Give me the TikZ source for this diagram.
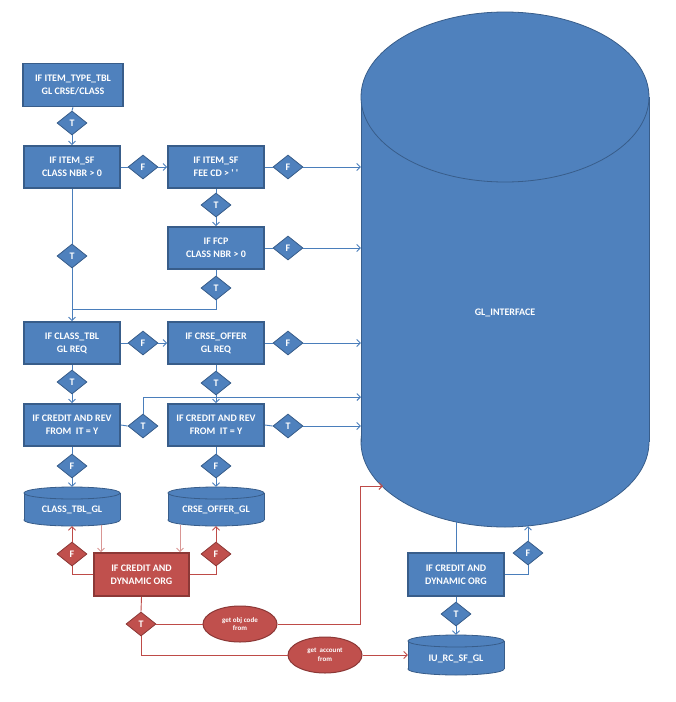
\documentclass[tikz,border=0pt]{standalone}
\usepackage{fontspec}
\newfontfamily\carl{Carlito}
\usetikzlibrary{shapes.geometric,arrows.meta}
\definecolor{blueF}{HTML}{4F81BD}
\definecolor{blueD}{HTML}{385D8A}
\definecolor{lineB}{HTML}{4A7EBB}
\definecolor{redF}{HTML}{C0504D}
\definecolor{redD}{HTML}{8C3836}
\definecolor{lineR}{HTML}{BE4B48}
\definecolor{lineP}{HTML}{D99694}
\newcommand{\drawcyl}[5]{%
  \path[cylpart] ({(#1+#2)/2},#4) ellipse [x radius={(#2-#1)/2}, y radius=#5];
  \fill[blueF] (#1,#3) rectangle (#2,#4);
  \draw[cylside] (#1,#3) -- (#1,#4) (#2,#3) -- (#2,#4);
  \path[cylpart] ({(#1+#2)/2},#3) ellipse [x radius={(#2-#1)/2}, y radius=#5];
}
\begin{document}
\begin{tikzpicture}[x=1pt,y=-1pt,
  txt/.style={text=white,font=\carl\bfseries\fontsize{10}{13}\selectfont,align=center},
  box/.style={txt,rectangle,fill=blueF,draw=blueD,line width=1.6pt,minimum width=96,minimum height=42,inner sep=0},
  rbox/.style={box,fill=redF,draw=redD},
  dia/.style={txt,diamond,aspect=1.25,minimum width=30,minimum height=24,inner sep=0,fill=blueF,draw=blueD,line width=0.8pt},
  rdia/.style={dia,fill=redF,draw=redD},
  rell/.style={text=white,font=\carl\bfseries\fontsize{7}{8.5}\selectfont,align=center,ellipse,minimum width=74,minimum height=36,inner sep=0,fill=redF,draw=redD,line width=1pt},
  cylpart/.style={fill=blueF,draw=blueD,line width=0.8pt},
  cylside/.style={draw=blueD,line width=0.8pt},
  holder/.style={rectangle,draw=none,inner sep=0},
  cb/.style={draw=lineB,line width=0.9pt},
  cr/.style={draw=lineR,line width=0.9pt},
  cp/.style={draw=lineP,line width=0.9pt},
  arr/.style={-{Straight Barb[length=3.5pt,width=7pt]}}
]
\fill[white] (0,0) rectangle (676,702);
\useasboundingbox (0,0) rectangle (676,702);

% cylinders
\drawcyl{361}{649}{97}{442}{85}
\drawcyl{24}{120}{493}{520}{6}
\drawcyl{168}{264}{493}{520}{6}
\drawcyl{408}{504}{641}{669}{6}
\node[holder,minimum width=288,minimum height=515] (gl) at (505,269.5) {};
\node[txt] (gllabel) at (505,313) {GL\_INTERFACE};
\node[holder,txt,minimum width=96,minimum height=39] (cyl1) at (72,506.5) {};
\node[txt] (cyl1l) at (72,510) {CLASS\_TBL\_GL};
\node[holder,txt,minimum width=96,minimum height=39] (cyl2) at (216,506.5) {};
\node[txt] (cyl2l) at (216,510) {CRSE\_OFFER\_GL};
\node[holder,txt,minimum width=96,minimum height=40] (iu) at (456,655) {};
\node[txt] (iul) at (456,659) {IU\_RC\_SF\_GL};

% boxes
\node[box,minimum width=100,minimum height=43] (b1) at (73,85) {IF ITEM\_TYPE\_TBL\\GL CRSE/CLASS};
\node[box] (b2) at (72,167) {IF ITEM\_SF\\CLASS NBR > 0};
\node[box] (b3) at (216,167) {IF ITEM\_SF\\FEE CD > ' '};
\node[box] (b4) at (216,248) {IF FCP\\CLASS NBR > 0};
\node[box] (b5) at (72,343) {IF CLASS\_TBL\\GL REQ};
\node[box] (b6) at (216,343) {IF CRSE\_OFFER\\GL REQ};
\node[box] (b7) at (72,425) {IF CREDIT AND REV\\FROM\ \ IT = Y};
\node[box] (b8) at (216,425) {IF CREDIT AND REV\\FROM\ \ IT = Y};
\node[rbox,minimum width=95,minimum height=43] (rb) at (141.5,574.5) {IF CREDIT AND\\DYNAMIC ORG};
\node[box,minimum height=43] (bb) at (456,574.5) {IF CREDIT AND\\DYNAMIC ORG};

% diamonds
\node[dia] (t1) at (72,123) {T};
\node[dia] (f1) at (143,167) {F};
\node[dia] (f2) at (288,167) {F};
\node[dia] (t2) at (216,205) {T};
\node[dia] (f3) at (288,248) {F};
\node[dia] (t3) at (216,288) {T};
\node[dia] (t4) at (72,256) {T};
\node[dia] (f4) at (143,343) {F};
\node[dia] (f5) at (288,343) {F};
\node[dia] (t5) at (72,382) {T};
\node[dia] (t6) at (216,383) {T};
\node[dia] (t7) at (143,426) {T};
\node[dia] (t8) at (288,426) {T};
\node[dia] (f6) at (72,466) {F};
\node[dia] (f7) at (216,466) {F};
\node[rdia] (rf1) at (72,554) {F};
\node[rdia] (rf2) at (216,554) {F};
\node[rdia] (rt) at (141,624) {T};
\node[dia] (bf) at (528,553) {F};
\node[dia] (bt) at (456,614) {T};

% ellipses
\node[rell] (e1) at (240,624) {get obj code\\from};
\node[rell] (e2) at (325,655) {get\ \ account\\from};

% helper coordinates
\coordinate (j1) at (72,309);
\coordinate (g397) at (361,397);
\coordinate (redturn) at (360,486);
\coordinate (redtgt) at (383,486);
\coordinate (glb1) at (456,522);
\coordinate (glb2) at (528,526);
\coordinate (c1b) at (101,525);
\coordinate (c2b) at (180,525);

% blue connectors
\draw[cb] (b1.south) -- (t1.north);
\draw[cb,arr] (t1.south) -- (b2.north);
\draw[cb] (b2.east) -- (f1.west);
\draw[cb,arr] (f1.east) -- (b3.west);
\draw[cb] (b3.east) -- (f2.west);
\draw[cb,arr] (f2.east) -- (f2.east -| gl.west);
\draw[cb] (b3.south) -- (t2.north);
\draw[cb,arr] (t2.south) -- (b4.north);
\draw[cb] (b4.east) -- (f3.west);
\draw[cb,arr] (f3.east) -- (f3.east -| gl.west);
\draw[cb] (b4.south) -- (t3.north);
\draw[cb] (t3.south) |- (j1);
\draw[cb] (b2.south) -- (t4.north);
\draw[cb,arr] (t4.south) -- (b5.north);
\draw[cb] (b5.east) -- (f4.west);
\draw[cb,arr] (f4.east) -- (b6.west);
\draw[cb] (b6.east) -- (f5.west);
\draw[cb,arr] (f5.east) -- (f5.east -| gl.west);
\draw[cb] (b5.south) -- (t5.north);
\draw[cb,arr] (t5.south) -- (b7.north);
\draw[cb] (b6.south) -- (t6.north);
\draw[cb,arr] (t6.south) -- (b8.north);
\draw[cb] (b7.east) -- (t7.west);
\draw[cb,arr] (t7.north) |- (g397);
\draw[cb] (b8.east) -- (t8.west);
\draw[cb,arr] (t8.east) -- (t8.east -| gl.west);
\draw[cb] (b7.south) -- (f6.north);
\draw[cb,arr] (f6.south) -- (cyl1.north);
\draw[cb] (b8.south) -- (f7.north);
\draw[cb,arr] (f7.south) -- (cyl2.north);
\draw[cb] (bb.north) -- (glb1);
\draw[cb] (bb.east) -| (bf.south);
\draw[cb,arr] (bf.north) -- (glb2);
\draw[cb] (bb.south) -- (bt.north);
\draw[cb,arr] (bt.south) -- (iu.north);

% red connectors
\draw[cp,arr] (c1b) -- (c1b |- rb.north);
\draw[cp,arr] (c2b) -- (c2b |- rb.north);
\draw[cr] (rb.west) -| (rf1.south);
\draw[cr,arr] (rf1.north) -- (cyl1.south);
\draw[cr] (rb.east) -| (rf2.south);
\draw[cr,arr] (rf2.north) -- (cyl2.south);
\draw[cr] (rb.south) -- (rt.north);
\draw[cr] (rt.east) -- (e1.west);
\draw[cr,arr] (e1.east) -| (redturn) -- (redtgt);
\draw[cr] (rt.south) |- (e2.west);
\draw[cr,arr] (e2.east) -- (iu.west);
\end{tikzpicture}
\end{document}
